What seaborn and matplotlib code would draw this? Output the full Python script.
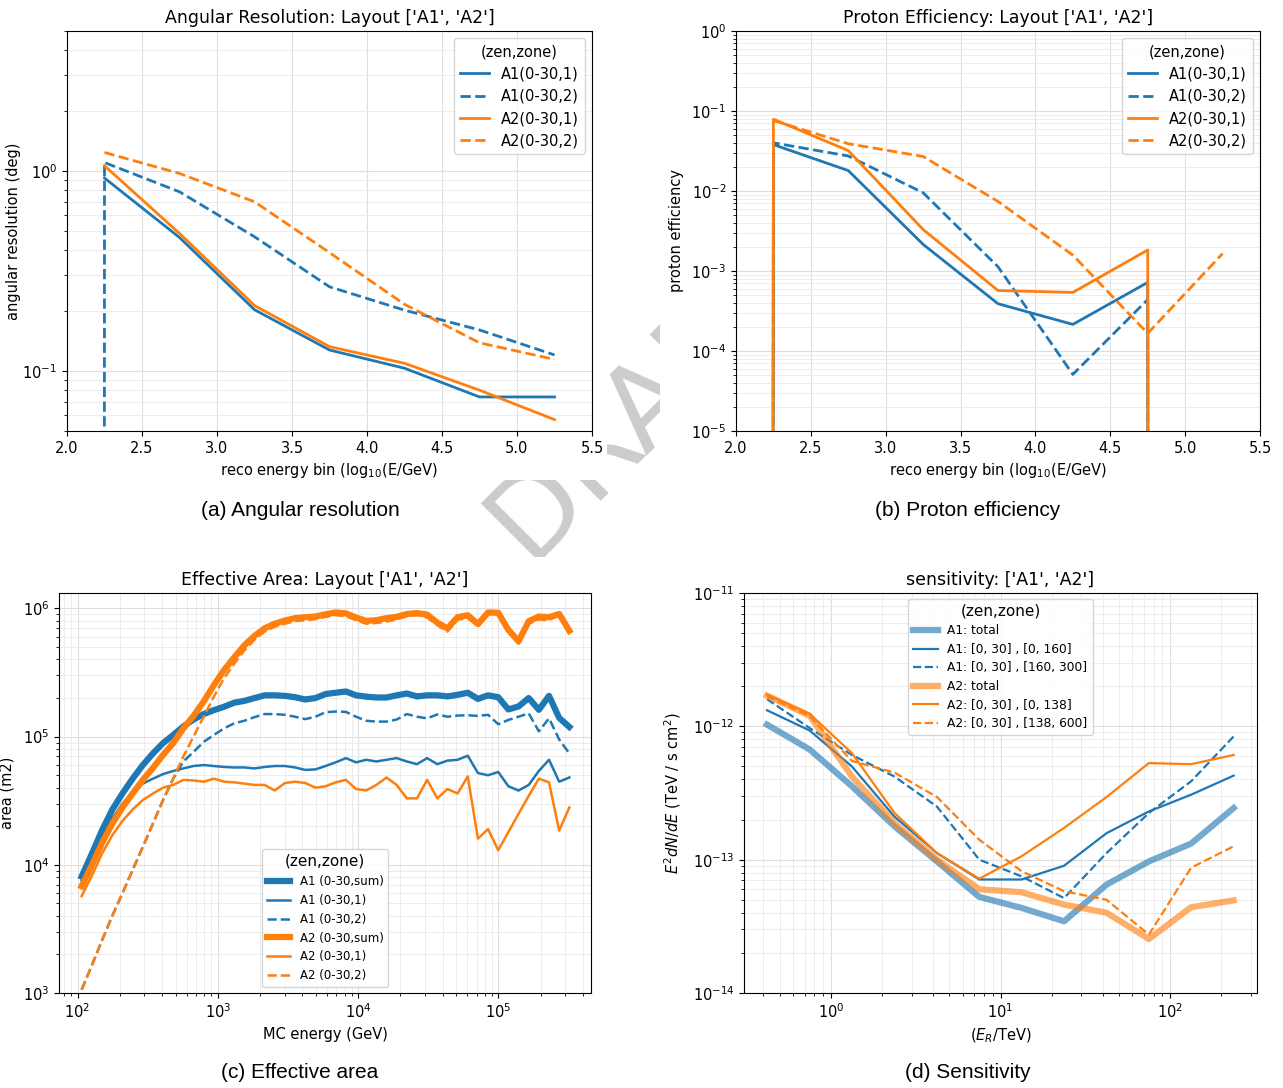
import numpy as np
import matplotlib
matplotlib.use("Agg")
import matplotlib.pyplot as plt
import seaborn as sns
from matplotlib.patches import Rectangle
from matplotlib.ticker import NullFormatter

nan = np.nan
BLUE = "#1f77b4"
ORANGE = "#ff7f0e"

# ---------------- panel (a) angular resolution ----------------
reco_bins = [1.75, 2.25, 2.75, 3.25, 3.75, 4.25, 4.75, 5.25]
angres_A1_z1 = [nan, 0.92, 0.464, 0.202, 0.127, 0.103, 0.074, 0.074]
angres_A1_z2 = [0.0, 1.10, 0.785, 0.468, 0.263, 0.201, 0.160, 0.120]
angres_A2_z1 = [nan, 1.06, 0.486, 0.212, 0.132, 0.109, 0.080, 0.057]
angres_A2_z2 = [nan, 1.235, 0.97, 0.70, 0.39, 0.215, 0.138, 0.114]

# ---------------- panel (b) proton efficiency ----------------
eff_A1_z1 = [0.0, 0.038, 0.018, 0.00215, 3.9e-4, 2.15e-4, 7.2e-4, 0.0]
eff_A1_z2 = [0.0, 0.040, 0.0274, 0.0095, 1.13e-3, 5.1e-5, 4.4e-4, 0.0]
eff_A2_z1 = [0.0, 0.079, 0.032, 3.3e-3, 5.7e-4, 5.4e-4, 1.83e-3, 0.0]
eff_A2_z2 = [nan, 0.076, 0.039, 0.027, 7.4e-3, 1.58e-3, 1.66e-4, 1.65e-3]

ab_legend = ["A1(0-30,1)", "A1(0-30,2)", "A2(0-30,1)", "A2(0-30,2)"]

# ---------------- panel (c) effective area ----------------
mc_energy = [107, 127, 150, 177, 209, 247, 292, 345, 407, 481,
             568, 671, 793, 937, 1107, 1308, 1545, 1825, 2156, 2547,
             3009, 3555, 4200, 4962, 5862, 6925, 8181, 9665, 11418, 13490,
             15937, 18828, 22244, 26279, 31046, 36678, 43331, 51192, 60478, 71449,
             84410, 99722, 117812, 139183, 164432, 194260, 229500, 271132, 320316]
area_A1_sum = [8.1e3, 1.23e4, 1.87e4, 2.7e4, 3.6e4, 4.7e4, 6.0e4, 7.4e4, 8.9e4, 1.03e5,
               1.2e5, 1.36e5, 1.5e5, 1.61e5, 1.71e5, 1.84e5, 1.9e5, 2.0e5, 2.1e5, 2.1e5,
               2.08e5, 2.03e5, 1.95e5, 2.0e5, 2.15e5, 2.2e5, 2.25e5, 2.1e5, 2.05e5, 2.02e5,
               2.02e5, 2.1e5, 2.17e5, 2.06e5, 2.1e5, 2.1e5, 2.06e5, 2.12e5, 2.2e5, 1.97e5,
               2.1e5, 2.03e5, 1.63e5, 1.72e5, 2.0e5, 1.62e5, 2.08e5, 1.4e5, 1.19e5]
area_A1_z1 = [7.6e3, 1.12e4, 1.66e4, 2.3e4, 3.0e4, 3.7e4, 4.3e4, 4.7e4, 5.1e4, 5.4e4,
              5.65e4, 5.9e4, 6.0e4, 5.9e4, 5.8e4, 5.75e4, 5.75e4, 5.65e4, 5.8e4, 5.9e4,
              5.9e4, 5.75e4, 5.5e4, 5.55e4, 5.9e4, 6.3e4, 6.8e4, 6.3e4, 6.6e4, 6.4e4,
              6.6e4, 6.8e4, 6.4e4, 6.1e4, 6.8e4, 6.1e4, 6.5e4, 6.6e4, 7.1e4, 5.2e4,
              5.0e4, 5.3e4, 4.1e4, 3.8e4, 4.2e4, 5.4e4, 6.6e4, 4.45e4, 4.8e4]
area_A1_z2 = [1.06e3, 1.66e3, 2.6e3, 4.0e3, 6.0e3, 9.1e3, 1.38e4, 2.1e4, 3.2e4, 4.7e4,
              6.4e4, 7.6e4, 9.1e4, 1.03e5, 1.16e5, 1.27e5, 1.33e5, 1.42e5, 1.5e5, 1.5e5,
              1.48e5, 1.43e5, 1.37e5, 1.43e5, 1.55e5, 1.57e5, 1.56e5, 1.43e5, 1.33e5, 1.31e5,
              1.31e5, 1.36e5, 1.5e5, 1.43e5, 1.39e5, 1.49e5, 1.43e5, 1.46e5, 1.47e5, 1.45e5,
              1.48e5, 1.25e5, 1.35e5, 1.43e5, 1.52e5, 1.1e5, 1.39e5, 9.5e4, 7.4e4]
area_A2_sum = [6.8e3, 1.0e4, 1.49e4, 2.1e4, 2.8e4, 3.6e4, 4.6e4, 5.7e4, 7.2e4, 8.9e4,
               1.16e5, 1.45e5, 1.88e5, 2.52e5, 3.3e5, 4.15e5, 5.15e5, 6.1e5, 7.0e5, 7.6e5,
               8.05e5, 8.4e5, 8.55e5, 8.65e5, 9.0e5, 9.3e5, 9.15e5, 8.5e5, 8.0e5, 8.1e5,
               8.4e5, 8.6e5, 9.05e5, 9.2e5, 8.95e5, 7.75e5, 7.0e5, 8.55e5, 8.85e5, 7.55e5,
               9.3e5, 9.25e5, 6.8e5, 5.55e5, 7.95e5, 8.65e5, 8.55e5, 9.05e5, 6.7e5]
area_A2_z1 = [5.7e3, 8.3e3, 1.23e4, 1.7e4, 2.2e4, 2.7e4, 3.2e4, 3.6e4, 4.0e4, 4.2e4,
              4.6e4, 4.55e4, 4.45e4, 4.7e4, 4.45e4, 4.4e4, 4.3e4, 4.2e4, 4.2e4, 3.8e4,
              4.35e4, 4.45e4, 4.35e4, 4.0e4, 4.1e4, 4.4e4, 4.6e4, 3.9e4, 3.8e4, 4.2e4,
              4.8e4, 4.2e4, 3.3e4, 3.3e4, 4.6e4, 3.3e4, 3.9e4, 3.6e4, 4.9e4, 1.6e4,
              1.9e4, 1.3e4, 1.8e4, 2.5e4, 3.45e4, 4.7e4, 4.4e4, 1.85e4, 2.8e4]
area_A2_z2 = [1.06e3, 1.66e3, 2.6e3, 4.0e3, 6.0e3, 9.1e3, 1.38e4, 2.1e4, 3.2e4, 4.7e4,
              7.0e4, 1.0e5, 1.43e5, 2.05e5, 2.85e5, 3.7e5, 4.7e5, 5.7e5, 6.6e5, 7.2e5,
              7.6e5, 7.96e5, 8.1e5, 8.25e5, 8.6e5, 8.87e5, 8.7e5, 8.1e5, 7.6e5, 7.7e5,
              7.9e5, 8.2e5, 8.7e5, 8.87e5, 8.5e5, 7.4e5, 6.6e5, 8.2e5, 8.35e5, 7.4e5,
              9.1e5, 9.1e5, 6.6e5, 5.3e5, 7.6e5, 8.2e5, 8.1e5, 8.87e5, 6.4e5]
c_legend = ["A1 (0-30,sum)", "A1 (0-30,1)", "A1 (0-30,2)",
            "A2 (0-30,sum)", "A2 (0-30,1)", "A2 (0-30,2)"]

# ---------------- panel (d) sensitivity ----------------
e_reco_tev = [0.42, 0.75, 1.33, 2.37, 4.22, 7.5, 13.3, 23.7, 42.2, 75.0, 133, 237]
sens_A1_tot = [1.03e-12, 6.7e-13, 3.55e-13, 1.78e-13, 9.7e-14, 5.25e-14, 4.35e-14, 3.45e-14, 6.5e-14, 9.7e-14, 1.32e-13, 2.44e-13]
sens_A1_r1 = [1.32e-12, 9.3e-13, 5.0e-13, 2.1e-13, 1.12e-13, 7.1e-14, 7.1e-14, 9.0e-14, 1.58e-13, 2.3e-13, 3.07e-13, 4.27e-13]
sens_A1_r2 = [1.6e-12, 9.7e-13, 6.1e-13, 4.2e-13, 2.5e-13, 1.0e-13, 7.5e-14, 5.15e-14, 1.12e-13, 2.24e-13, 3.87e-13, 8.4e-13]
sens_A2_tot = [1.7e-12, 1.2e-12, 4.2e-13, 1.88e-13, 1.0e-13, 6.0e-14, 5.7e-14, 4.6e-14, 4.0e-14, 2.54e-14, 4.4e-14, 4.95e-14]
sens_A2_r1 = [1.73e-12, 1.24e-12, 6.3e-13, 2.24e-13, 1.12e-13, 7.2e-14, 1.06e-13, 1.73e-13, 2.95e-13, 5.3e-13, 5.2e-13, 6.1e-13]
sens_A2_r2 = [1.68e-12, 1.19e-12, 5.5e-13, 4.5e-13, 2.95e-13, 1.41e-13, 8.2e-14, 5.8e-14, 5.0e-14, 2.74e-14, 8.7e-14, 1.26e-13]
d_legend = ["A1: total", "A1: [0, 30] , [0, 160]", "A1: [0, 30] , [160, 300]",
            "A2: total", "A2: [0, 30] , [0, 138]", "A2: [0, 30] , [138, 600]"]

captions = ["(a) Angular resolution", "(b) Proton efficiency",
            "(c) Effective area", "(d) Sensitivity"]

# ---------------- figure ----------------
plt.rcParams.update({
    "font.family": "DejaVu Sans",
    "font.size": 10.5,
    "axes.titlesize": 12.5,
    "axes.labelsize": 10.5,
    "xtick.labelsize": 10.5,
    "ytick.labelsize": 10.5,
    "legend.fontsize": 10.5,
})

W, H = 1283, 1088
fig = plt.figure(figsize=(W / 100, H / 100), dpi=100)


def rect_px(x0, y0, x1, y1):
    return [x0 / W, 1 - y1 / H, (x1 - x0) / W, (y1 - y0) / H]


# watermark + white image backgrounds
fig.text(638 / W, 1 - 408 / H, "DRAFT", rotation=45, rotation_mode="anchor",
         ha="center", va="center", fontsize=82, color="#cccccc",
         family="DejaVu Sans", zorder=-3)
for (x0, y0, x1, y1) in [(0, 0, 607, 480), (660, 0, W, 480),
                         (0, 557, 607, 1045), (660, 557, W, 1045)]:
    fig.patches.append(Rectangle((x0 / W, 1 - y1 / H), (x1 - x0) / W, (y1 - y0) / H,
                                 transform=fig.transFigure, facecolor="white",
                                 edgecolor="none", zorder=-2))

ax_a = fig.add_axes(rect_px(67, 31, 592, 431))
ax_b = fig.add_axes(rect_px(736, 31, 1260, 431))
ax_c = fig.add_axes(rect_px(59, 593, 591, 993))
ax_d = fig.add_axes(rect_px(744, 593, 1257, 993))


def line(ax, x, y, color, ls="-", lw=2.0, label=None, alpha=1.0):
    sns.lineplot(x=np.asarray(x, float), y=np.asarray(y, float), ax=ax,
                 color=color, linestyle=ls, linewidth=lw, label=label,
                 alpha=alpha, estimator=None, sort=False, errorbar=None)


def grid(ax, xminor=False):
    ax.grid(True, which="major", color="#dedede", linewidth=0.8)
    ax.grid(True, which="minor", axis="y", color="#ececec", linewidth=0.7)
    if xminor:
        ax.grid(True, which="minor", axis="x", color="#ececec", linewidth=0.7)
    ax.set_axisbelow(True)


# (a)
for ys, c, ls, lab in [(angres_A1_z1, BLUE, "-", ab_legend[0]),
                       (angres_A1_z2, BLUE, "--", ab_legend[1]),
                       (angres_A2_z1, ORANGE, "-", ab_legend[2]),
                       (angres_A2_z2, ORANGE, "--", ab_legend[3])]:
    line(ax_a, reco_bins, ys, c, ls, 2.0, lab)
ax_a.set_yscale("log")
ax_a.set_xlim(2.0, 5.5)
ax_a.set_ylim(0.05, 5.0)
ax_a.set_xticks([2.0, 2.5, 3.0, 3.5, 4.0, 4.5, 5.0, 5.5])
ax_a.yaxis.set_minor_formatter(NullFormatter())
ax_a.set_title("Angular Resolution: Layout ['A1', 'A2']")
ax_a.set_xlabel("reco energy bin (log$_{10}$(E/GeV)")
ax_a.set_ylabel("angular resolution (deg)")
ax_a.yaxis.set_label_coords(-0.088, 0.5)
grid(ax_a)
ax_a.legend(title="(zen,zone)", loc="upper right", title_fontsize=10.5)

# (b)
for ys, c, ls, lab in [(eff_A1_z1, BLUE, "-", ab_legend[0]),
                       (eff_A1_z2, BLUE, "--", ab_legend[1]),
                       (eff_A2_z1, ORANGE, "-", ab_legend[2]),
                       (eff_A2_z2, ORANGE, "--", ab_legend[3])]:
    line(ax_b, reco_bins, ys, c, ls, 2.0, lab)
ax_b.set_yscale("log")
ax_b.set_xlim(2.0, 5.5)
ax_b.set_ylim(1e-5, 1.0)
ax_b.set_xticks([2.0, 2.5, 3.0, 3.5, 4.0, 4.5, 5.0, 5.5])
ax_b.yaxis.set_minor_formatter(NullFormatter())
ax_b.set_title("Proton Efficiency: Layout ['A1', 'A2']")
ax_b.set_xlabel("reco energy bin (log$_{10}$(E/GeV)")
ax_b.set_ylabel("proton efficiency")
ax_b.yaxis.set_label_coords(-0.10, 0.5)
grid(ax_b)
ax_b.legend(title="(zen,zone)", loc="upper right", title_fontsize=10.5)

# (c)
for ys, c, ls, lw, lab in [(area_A1_sum, BLUE, "-", 4.5, c_legend[0]),
                           (area_A1_z1, BLUE, "-", 1.8, c_legend[1]),
                           (area_A1_z2, BLUE, "--", 1.8, c_legend[2]),
                           (area_A2_sum, ORANGE, "-", 4.5, c_legend[3]),
                           (area_A2_z1, ORANGE, "-", 1.8, c_legend[4]),
                           (area_A2_z2, ORANGE, "--", 1.8, c_legend[5])]:
    line(ax_c, mc_energy, ys, c, ls, lw, lab)
ax_c.set_xscale("log")
ax_c.set_yscale("log")
ax_c.set_xlim(10 ** 1.868, 10 ** 5.66)
ax_c.set_ylim(1e3, 1.32e6)
ax_c.xaxis.set_minor_formatter(NullFormatter())
ax_c.yaxis.set_minor_formatter(NullFormatter())
ax_c.set_title("Effective Area: Layout ['A1', 'A2']")
ax_c.set_xlabel("MC energy (GeV)")
ax_c.set_ylabel("area (m2)")
ax_c.yaxis.set_label_coords(-0.083, 0.5)
grid(ax_c, xminor=True)
ax_c.legend(title="(zen,zone)", loc="lower center", fontsize=8.5, title_fontsize=11)

# (d)
for ys, c, ls, lw, al, lab in [(sens_A1_tot, BLUE, "-", 4.5, 0.62, d_legend[0]),
                               (sens_A1_r1, BLUE, "-", 1.6, 1.0, d_legend[1]),
                               (sens_A1_r2, BLUE, "--", 1.6, 1.0, d_legend[2]),
                               (sens_A2_tot, ORANGE, "-", 4.5, 0.62, d_legend[3]),
                               (sens_A2_r1, ORANGE, "-", 1.6, 1.0, d_legend[4]),
                               (sens_A2_r2, ORANGE, "--", 1.6, 1.0, d_legend[5])]:
    line(ax_d, e_reco_tev, ys, c, ls, lw, lab, alpha=al)
ax_d.set_xscale("log")
ax_d.set_yscale("log")
ax_d.set_xlim(10 ** -0.5125, 10 ** 2.5125)
ax_d.set_ylim(1e-14, 1e-11)
ax_d.xaxis.set_minor_formatter(NullFormatter())
ax_d.yaxis.set_minor_formatter(NullFormatter())
ax_d.set_title("sensitivity: ['A1', 'A2']")
ax_d.set_xlabel(r"$(E_R/\mathrm{TeV})$")
ax_d.set_ylabel(r"$E^2 dN/dE$ (TeV / s cm$^2$)")
ax_d.yaxis.set_label_coords(-0.118, 0.5)
grid(ax_d, xminor=True)
ax_d.legend(title="(zen,zone)", loc="upper center", fontsize=8.8,
            title_fontsize=11, labelspacing=0.45)

# captions
for (cx, cy), txt in zip([(300, 511), (968, 511), (300, 1073), (968, 1073)], captions):
    fig.text(cx / W, 1 - cy / H, txt, ha="center", va="center", fontsize=15,
             family="Liberation Sans")

fig.savefig("out.png", dpi=100)
